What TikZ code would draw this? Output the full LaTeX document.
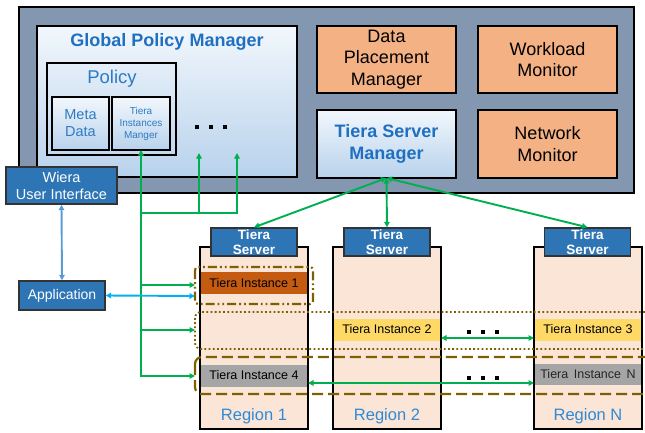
\documentclass[tikz,border=0pt]{standalone}
\usepackage{fontspec}
\setmainfont{Liberation Sans}
\usetikzlibrary{arrows.meta}
\definecolor{outerfill}{HTML}{8497B0}
\definecolor{peach}{HTML}{F4B183}
\definecolor{gradtop}{HTML}{F2F7FC}
\definecolor{gradbot}{HTML}{B8D2EC}
\definecolor{titleblue}{HTML}{1F70C1}
\definecolor{midblue}{HTML}{2E7BC4}
\definecolor{boxblue}{HTML}{2E75B6}
\definecolor{colfill}{HTML}{FBE5D6}
\definecolor{inst1}{HTML}{C55A11}
\definecolor{inst2}{HTML}{FFD966}
\definecolor{instgray}{HTML}{A5A5A5}
\definecolor{brown}{HTML}{7F6000}
\definecolor{gline}{HTML}{00B050}
\definecolor{cyanline}{HTML}{00B0F0}
\definecolor{lbline}{HTML}{5B9BD5}
\definecolor{regionblue}{HTML}{2E8AD6}
\tikzset{
  bx/.style={draw=black, line width=1.8pt, inner sep=0pt, outer sep=0pt},
  grad/.style={bx, top color=gradtop, bottom color=gradbot},
  orangebox/.style={bx, fill=peach, align=center, font=\fontsize{18}{21.5}\selectfont},
  bluebox/.style={draw=black!80, line width=1.4pt, fill=boxblue, text=white, align=center, inner sep=0pt},
  server/.style={bluebox, minimum width=86pt, minimum height=28pt, font=\bfseries\fontsize{13.5}{15}\selectfont},
  column/.style={draw=black, line width=2pt, fill=colfill, minimum width=108pt, minimum height=182pt, inner sep=0pt},
  inst/.style={inner sep=0pt, minimum width=106pt, minimum height=22pt, font=\fontsize{12.5}{14}\selectfont},
  region/.style={text=regionblue, font=\fontsize{16.5}{18}\selectfont},
  g/.style={draw=gline, line width=1.9pt, arrows={-}, >={Triangle[length=5.5pt,width=5.5pt]}},
  dotsq/.style={fill=black, minimum size=4pt, inner sep=0pt},
  brownline/.style={draw=brown, line width=2.2pt},
}
\begin{document}
\begin{tikzpicture}[x=1pt,y=-1pt]
\useasboundingbox (0,0) rectangle (645,432);
\clip (0,0) rectangle (645,432);
% top frame
\node[bx, line width=2.2pt, fill=outerfill, minimum width=615pt, minimum height=186pt] (outer) at (326.5,100) {};
\node[grad, minimum width=260pt, minimum height=151pt] (gpm) at (167,101.5) {};
\node[text=titleblue, font=\bfseries\fontsize{18}{21}\selectfont] (gpmt) at (167,42) {Global Policy Manager};
\node[bx, minimum width=129pt, minimum height=92pt] (policy) at (111.5,109) {};
\node[text=midblue, font=\fontsize{18.5}{21}\selectfont] (policyt) at (112,79) {Policy};
\node[grad, minimum width=57pt, minimum height=53pt, text=midblue, align=center, font=\fontsize{14.5}{17}\selectfont] (meta) at (80.5,123.5) {Meta\\Data};
\node[grad, minimum width=58pt, minimum height=53pt, text=midblue, align=center, font=\fontsize{10}{12}\selectfont] (tim) at (141,123.5) {Tiera\\Instances\\Manger};
\node[dotsq] (d1) at (197,127) {};
\node[dotsq] (d2) at (211,127) {};
\node[dotsq] (d3) at (225,127) {};
\node[orangebox, minimum width=139pt, minimum height=67pt] (dpm) at (386.5,59.5) {Data\\Placement\\Manager};
\node[orangebox, minimum width=139pt, minimum height=67pt] (wm) at (547.5,59.5) {Workload\\Monitor};
\node[grad, minimum width=139pt, minimum height=68pt, text=titleblue, align=center, font=\bfseries\fontsize{18}{22}\selectfont] (tsm) at (386.5,144) {Tiera Server\\Manager};
\node[orangebox, minimum width=139pt, minimum height=68pt] (nm) at (547.5,144) {Network\\Monitor};
\node[bluebox, minimum width=111pt, minimum height=37pt, font=\fontsize{14.5}{17}\selectfont] (wui) at (61.5,185.5) {Wiera\\User Interface};
\node[bluebox, minimum width=86pt, minimum height=29pt, font=\fontsize{14}{16}\selectfont] (app) at (62,295.5) {Application};
% region columns
\node[column] (c1) at (254,338) {};
\node[column] (c2) at (387,338) {};
\node[column] (cn) at (588,338) {};
\node[server] (s1) at (254,242) {Tiera\\Server};
\node[server] (s2) at (387,242) {Tiera\\Server};
\node[server] (sn) at (587.5,242) {Tiera\\Server};
\node[inst, fill=inst1] (i1) at (254,283) {Tiera Instance 1};
\node[inst, fill=instgray] (i4) at (254,375.5) {Tiera Instance 4};
\node[inst, fill=inst2] (i2) at (387,329.5) {Tiera Instance 2};
\node[inst, fill=inst2] (i3) at (588,329.5) {Tiera Instance 3};
\node[inst, fill=instgray, minimum height=21pt, text=black!85] (iN) at (588,374.5) {Tiera\,\ Instance\,\ N};
\node[region] (r1) at (254,416) {Region 1};
\node[region] (r2) at (387,416) {Region 2};
\node[region] (rn) at (588,416) {Region N};
% brown groupings
\draw[brownline, rounded corners=3pt, dash pattern=on 9pt off 3pt on 1.8pt off 3pt on 1.8pt off 3pt] (195,267) rectangle (313,304);
\draw[brownline, line width=1.8pt, rounded corners=6pt, dash pattern=on 1.8pt off 2.4pt] (195,312) rectangle (665,349);
\draw[brownline, rounded corners=7pt, dash pattern=on 11pt off 5pt] (195,357) rectangle (665,394);
% dots between regions
\node[dotsq] (e1) at (469,332) {};
\node[dotsq] (e2) at (483,332) {};
\node[dotsq] (e3) at (497,332) {};
\node[dotsq] (f1) at (469,378) {};
\node[dotsq] (f2) at (483,378) {};
\node[dotsq] (f3) at (497,378) {};
% connector coordinates
\coordinate (g1) at (195,285);
\coordinate (g2) at (195,330);
\coordinate (g3) at (195,376);
\coordinate (b1) at (141,285);
\coordinate (b2) at (141,330);
\coordinate (u1) at (199,153);
\coordinate (u2) at (237,153);
\coordinate (h1) at (141,213);
\coordinate (h2) at (199,213);
\coordinate (a1) at (195,296);
\coordinate (x2) at (441,338);
\coordinate (x3) at (534,338);
\coordinate (y1) at (308,383);
\coordinate (yN) at (534,383);
% green connectors
\draw[g,<->] (tim.south) |- (g3);
\draw[g,->] (b1) -- (g1);
\draw[g,->] (b2) -- (g2);
\draw[g,<-] (u1) -- (h2);
\draw[g,<-] (u2) |- (h1);
\draw[g,<->] (tsm.south) -- (s1.north);
\draw[g,<->] (tsm.south) -- (s2.north);
\draw[g,<->] (tsm.south) -- (sn.north);
\draw[g,<->] (x2) -- (x3);
\draw[g,<->] (y1) -- (yN);
% blue connectors
\draw[draw=cyanline, line width=1.9pt, <->, >={Triangle[length=5.5pt,width=5.5pt]}] (app.east) -- (a1);
\draw[draw=lbline, line width=1.9pt, <->, >={Triangle[length=5.5pt,width=5.5pt]}] (wui.south) -- (app.north);
\end{tikzpicture}
\end{document}
